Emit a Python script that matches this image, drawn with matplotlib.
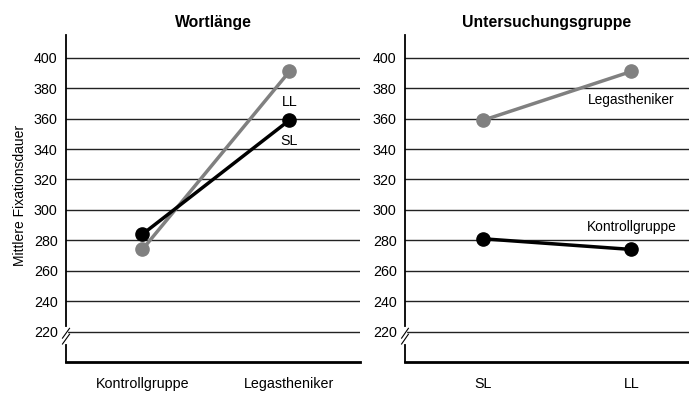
import matplotlib.pyplot as plt

plt.rcParams['font.family'] = ['Liberation Sans', 'DejaVu Sans']

# Daten
gruppen = ['Kontrollgruppe', 'Legastheniker']
wortlaengen = ['SL', 'LL']
sl_werte = [284, 359]      # kurze Wörter (SL) je Gruppe
ll_werte = [274, 391]      # lange Wörter (LL) je Gruppe
kontroll_werte = [281, 274]   # Kontrollgruppe: SL, LL
legast_werte = [359, 391]     # Legastheniker: SL, LL
yticks = [220, 240, 260, 280, 300, 320, 340, 360, 380, 400]

GRAU = '#808080'
SCHWARZ = '#000000'

fig = plt.figure(figsize=(6.89, 3.95), dpi=100)
ax1 = fig.add_axes([0.0958, 0.0835, 0.4267, 0.828])
ax2 = fig.add_axes([0.5878, 0.0835, 0.4122, 0.828])


def stil(ax, xlim, labels, titel):
    ax.set_ylim(200, 415)
    ax.set_xlim(*xlim)
    ax.set_yticks(yticks)
    ax.set_xticks(range(len(labels)))
    ax.set_xticklabels(labels)
    for y in yticks:
        ax.axhline(y, color='#222222', lw=1.0, zorder=1)
    ax.spines['top'].set_visible(False)
    ax.spines['right'].set_visible(False)
    ax.spines['left'].set_linewidth(1.3)
    ax.spines['bottom'].set_linewidth(2.0)
    ax.tick_params(axis='both', length=0, labelsize=10.3)
    ax.tick_params(axis='y', pad=6)
    ax.tick_params(axis='x', pad=11)
    ax.set_title(titel, fontsize=11.3, fontweight='bold', pad=6)
    # Achsenbruch
    ax.plot([0, 0], [0.06, 0.1], transform=ax.transAxes, color='white',
            lw=3, clip_on=False, zorder=5)
    for dy in (0, 0.018):
        ax.plot([-0.012, 0.012], [0.055 + dy, 0.085 + dy], transform=ax.transAxes,
                color='black', lw=0.8, clip_on=False, zorder=6)


stil(ax1, (-0.52, 1.48), gruppen, 'Wortlänge')
stil(ax2, (-0.53, 1.39), wortlaengen, 'Untersuchungsgruppe')

ax1.set_ylabel('Mittlere Fixationsdauer', fontsize=10)
ax1.yaxis.set_label_coords(-0.132, 0.51)

ax1.plot([0, 1], ll_werte, color=GRAU, lw=2.5, marker='o', ms=9.5, zorder=3)
ax1.plot([0, 1], sl_werte, color=SCHWARZ, lw=2.5, marker='o', ms=9.5, zorder=4)
ax1.text(1, ll_werte[1] - 20, 'LL', ha='center', va='center', fontsize=10.3)
ax1.text(1, sl_werte[1] - 14, 'SL', ha='center', va='center', fontsize=10.3)

ax2.plot([0, 1], legast_werte, color=GRAU, lw=2.5, marker='o', ms=9.5, zorder=3)
ax2.plot([0, 1], kontroll_werte, color=SCHWARZ, lw=2.5, marker='o', ms=9.5, zorder=4)
ax2.text(1.0, legast_werte[1] - 19, 'Legastheniker', ha='center', va='center', fontsize=9.9)
ax2.text(1.0, kontroll_werte[0] + 8, 'Kontrollgruppe', ha='center', va='center', fontsize=9.9)

fig.savefig('out.png', dpi=100, facecolor='white')
